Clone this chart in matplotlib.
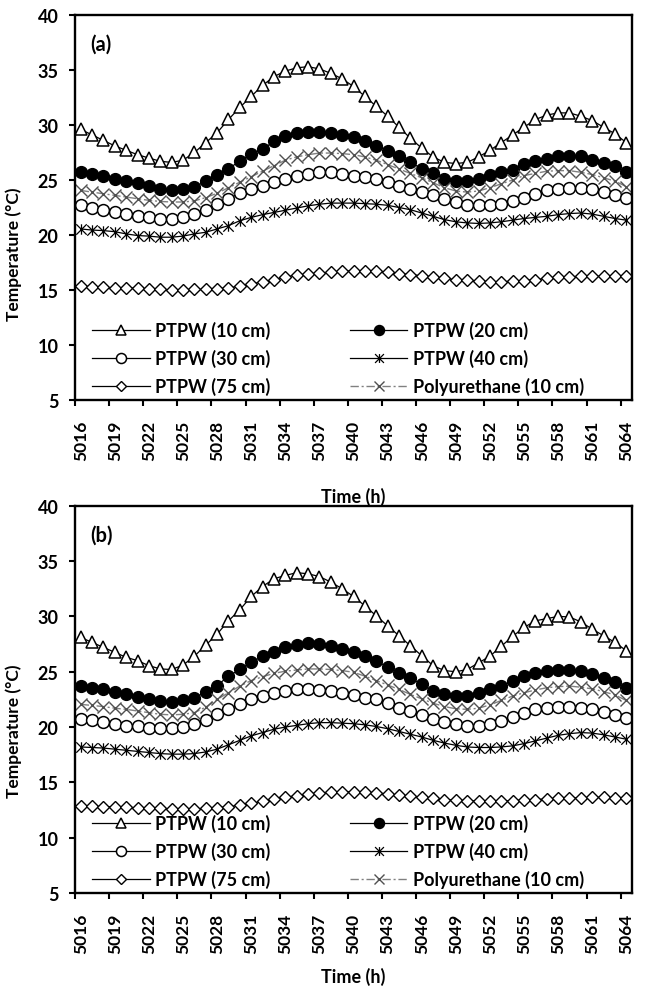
import matplotlib
matplotlib.use("Agg")
import matplotlib.pyplot as plt
import numpy as np
from matplotlib.path import Path

plt.rcParams['font.family'] = ['Lato', 'DejaVu Sans']
plt.rcParams['font.weight'] = 'bold'

hours = np.arange(5016, 5065)
tick_hours = hours[::3]

series_labels = ["PTPW (10 cm)", "PTPW (20 cm)", "PTPW (30 cm)",
                 "PTPW (40 cm)", "PTPW (75 cm)", "Polyurethane (10 cm)"]

# panel (a)
a_10 = [29.6, 29.1, 28.6, 28.1, 27.7, 27.3, 27.0, 26.7, 26.6, 26.8, 27.5, 28.4, 29.3, 30.5, 31.6, 32.6,
        33.6, 34.4, 34.9, 35.2, 35.3, 35.1, 34.7, 34.2, 33.5, 32.6, 31.7, 30.8, 29.8, 28.8, 27.9, 27.1,
        26.6, 26.5, 26.6, 27.1, 27.7, 28.4, 29.1, 29.8, 30.5, 30.9, 31.1, 31.1, 30.8, 30.4, 29.8, 29.2, 28.4]
a_20 = [25.7, 25.55, 25.35, 25.1, 24.95, 24.7, 24.5, 24.2, 24.1, 24.2, 24.35, 24.9, 25.5, 26.0, 26.75, 27.35,
        27.8, 28.5, 29.0, 29.3, 29.4, 29.35, 29.3, 29.1, 28.95, 28.5, 28.1, 27.65, 27.2, 26.65, 26.0, 25.65,
        25.1, 24.95, 24.95, 25.1, 25.45, 25.75, 25.95, 26.45, 26.75, 26.95, 27.15, 27.2, 27.2, 26.8, 26.55, 26.3, 25.7]
a_30 = [22.7, 22.5, 22.3, 22.05, 21.9, 21.75, 21.6, 21.45, 21.45, 21.6, 21.9, 22.3, 22.8, 23.3, 23.8, 24.2,
        24.5, 24.85, 25.1, 25.35, 25.55, 25.7, 25.7, 25.55, 25.4, 25.25, 25.1, 24.8, 24.5, 24.2, 23.9, 23.6,
        23.3, 23.0, 22.7, 22.7, 22.7, 22.8, 23.1, 23.35, 23.75, 24.05, 24.2, 24.25, 24.25, 24.2, 23.9, 23.6, 23.35]
a_40 = [20.55, 20.45, 20.4, 20.3, 20.1, 19.95, 19.9, 19.8, 19.8, 19.9, 20.1, 20.25, 20.55, 20.85, 21.3, 21.6,
        21.85, 22.05, 22.25, 22.45, 22.65, 22.8, 22.9, 22.9, 22.9, 22.85, 22.8, 22.7, 22.5, 22.3, 22.0, 21.7,
        21.4, 21.2, 21.1, 21.05, 21.1, 21.2, 21.35, 21.5, 21.6, 21.7, 21.85, 21.95, 22.0, 21.9, 21.7, 21.5, 21.35]
a_75 = [15.35, 15.3, 15.25, 15.2, 15.2, 15.15, 15.1, 15.05, 15.0, 15.0, 15.05, 15.05, 15.1, 15.2, 15.35, 15.55,
        15.75, 15.95, 16.2, 16.35, 16.45, 16.55, 16.6, 16.7, 16.75, 16.75, 16.7, 16.6, 16.5, 16.4, 16.3, 16.2,
        16.05, 15.95, 15.9, 15.8, 15.75, 15.75, 15.8, 15.85, 15.95, 16.05, 16.15, 16.2, 16.25, 16.25, 16.25, 16.25, 16.25]
a_pu = [24.05, 23.9, 23.75, 23.6, 23.45, 23.3, 23.15, 23.05, 23.0, 23.0, 23.1, 23.4, 23.8, 24.3, 24.8, 25.3,
        25.8, 26.3, 26.8, 27.1, 27.3, 27.45, 27.45, 27.4, 27.3, 27.1, 26.8, 26.4, 26.0, 25.6, 25.2, 24.75,
        24.3, 24.0, 23.9, 24.0, 24.3, 24.65, 25.0, 25.4, 25.6, 25.8, 25.85, 25.85, 25.7, 25.5, 25.2, 24.9, 24.4]

# panel (b)
b_10 = [28.1, 27.65, 27.2, 26.75, 26.3, 26.0, 25.55, 25.25, 25.2, 25.6, 26.4, 27.4, 28.4, 29.6, 30.6, 31.8,
        32.7, 33.4, 33.7, 33.95, 33.85, 33.6, 33.1, 32.5, 31.8, 30.95, 30.05, 29.15, 28.25, 27.35, 26.45, 25.55,
        25.1, 25.0, 25.2, 25.8, 26.4, 27.3, 28.2, 29.0, 29.6, 29.8, 30.0, 29.95, 29.5, 28.85, 28.25, 27.65, 26.9]
b_20 = [23.7, 23.55, 23.4, 23.2, 22.95, 22.75, 22.55, 22.35, 22.25, 22.45, 22.65, 23.15, 23.75, 24.6, 25.2, 25.85,
        26.4, 26.8, 27.2, 27.45, 27.55, 27.5, 27.35, 27.05, 26.75, 26.4, 26.0, 25.4, 24.9, 24.45, 23.85, 23.25,
        22.95, 22.8, 22.8, 23.1, 23.4, 23.7, 24.15, 24.6, 24.9, 25.05, 25.15, 25.15, 25.05, 24.8, 24.4, 24.05, 23.55]
b_30 = [20.7, 20.65, 20.45, 20.25, 20.1, 20.05, 19.95, 19.95, 19.95, 20.0, 20.25, 20.65, 21.15, 21.6, 22.05, 22.5,
        22.8, 23.1, 23.3, 23.4, 23.4, 23.35, 23.25, 23.1, 22.9, 22.65, 22.5, 22.15, 21.75, 21.45, 21.05, 20.75,
        20.45, 20.25, 20.1, 20.1, 20.25, 20.55, 20.95, 21.3, 21.6, 21.75, 21.85, 21.85, 21.75, 21.6, 21.35, 21.05, 20.85]
b_40 = [18.2, 18.15, 18.1, 18.0, 17.9, 17.8, 17.7, 17.6, 17.55, 17.55, 17.6, 17.75, 18.0, 18.4, 18.8, 19.2,
        19.5, 19.8, 20.0, 20.15, 20.3, 20.4, 20.4, 20.35, 20.3, 20.2, 20.05, 19.85, 19.6, 19.35, 19.1, 18.8,
        18.55, 18.35, 18.2, 18.15, 18.15, 18.2, 18.3, 18.5, 18.75, 19.0, 19.25, 19.4, 19.5, 19.45, 19.3, 19.1, 18.9]
b_75 = [12.9, 12.85, 12.8, 12.8, 12.75, 12.7, 12.7, 12.65, 12.6, 12.6, 12.6, 12.65, 12.7, 12.8, 12.95, 13.1,
        13.3, 13.5, 13.65, 13.8, 13.95, 14.05, 14.1, 14.15, 14.15, 14.1, 14.05, 13.95, 13.85, 13.75, 13.65, 13.55,
        13.45, 13.4, 13.35, 13.3, 13.3, 13.3, 13.35, 13.4, 13.45, 13.5, 13.55, 13.6, 13.6, 13.65, 13.65, 13.6, 13.6]
b_pu = [22.05, 21.95, 21.85, 21.7, 21.6, 21.45, 21.3, 21.15, 21.1, 21.15, 21.3, 21.8, 22.5, 23.1, 23.7, 24.2,
        24.55, 24.85, 25.05, 25.15, 25.25, 25.25, 25.2, 25.1, 24.95, 24.6, 24.2, 23.8, 23.4, 22.95, 22.55, 22.15,
        21.85, 21.65, 21.6, 21.7, 22.0, 22.4, 22.8, 23.1, 23.35, 23.55, 23.65, 23.7, 23.6, 23.45, 23.2, 22.9, 22.4]

# excel style star marker: x with a vertical bar
star = Path([(-1, -1), (1, 1), (-1, 1), (1, -1), (0, -1), (0, 1)],
            [Path.MOVETO, Path.LINETO, Path.MOVETO, Path.LINETO, Path.MOVETO, Path.LINETO])

styles = [
    dict(marker='^', ms=8.5, mfc='white', mec='black', color='black', lw=0.9, mew=1.1),
    dict(marker='o', ms=8.5, mfc='black', mec='black', color='black', lw=0.9),
    dict(marker='o', ms=8.5, mfc='white', mec='black', color='black', lw=0.9, mew=1.1),
    dict(marker=star, ms=7.5, mec='black', color='black', lw=0.9, mew=0.9),
    dict(marker='D', ms=6.2, mfc='white', mec='black', color='black', lw=0.9, mew=1.0),
    dict(marker='x', ms=8, mec='#505050', color='#808080', lw=1.0, mew=1.0, ls=(0, (6, 2, 1.5, 2))),
]


def draw_panel(ax, values, tag, ylabel_y, xlabel_y):
    handles = []
    for vals, lab, st in zip(values, series_labels, styles):
        line, = ax.plot(hours, vals, label=lab, **st)
        handles.append(line)

    ax.set_xlim(5015.5, 5064.5)
    ax.set_ylim(5, 40)
    ax.set_yticks(range(5, 45, 5))
    ax.set_xticks(np.arange(5015.5, 5064, 3))
    ax.set_xticklabels([])
    ax.set_xticks(tick_hours, [str(h) for h in tick_hours], minor=True)
    ax.tick_params(axis='x', which='major', direction='out', length=4, width=1.5)
    ax.tick_params(axis='x', which='minor', length=0, pad=14, labelrotation=90, labelsize=12.5)
    ax.tick_params(axis='y', direction='out', length=4, width=1.5, pad=8, labelsize=13)
    for sp in ax.spines.values():
        sp.set_linewidth(1.7)

    ax.set_ylabel("Temperature (°C)", fontsize=12.5, fontweight='bold')
    ax.yaxis.set_label_coords(-0.096, ylabel_y)
    ax.set_xlabel("Time (h)", fontsize=13, fontweight='bold')
    ax.xaxis.set_label_coords(0.5, xlabel_y)
    ax.text(0.027, 0.925, tag, transform=ax.transAxes, fontsize=14.5, fontweight='bold', va='center')

    order = [0, 2, 4, 1, 3, 5]
    ax.legend([handles[i] for i in order], [series_labels[i] for i in order],
              ncol=2, loc='lower left', bbox_to_anchor=(0.03, 0.012), frameon=False,
              numpoints=1, markerscale=0.85, handlelength=3.2, handletextpad=0.3,
              columnspacing=4.4, labelspacing=0.55, borderpad=0, borderaxespad=0,
              prop=dict(size=13, weight='bold'))


fig = plt.figure(figsize=(6.49, 9.87), dpi=100)
ax_a = fig.add_axes([0.1156, 0.5937, 0.8582, 0.3901])
ax_b = fig.add_axes([0.1156, 0.0942, 0.8582, 0.3924])

draw_panel(ax_a, [a_10, a_20, a_30, a_40, a_75, a_pu], "(a)", 0.38, -0.225)
draw_panel(ax_b, [b_10, b_20, b_30, b_40, b_75, b_pu], "(b)", 0.42, -0.19)

fig.savefig("out.png", dpi=100)
